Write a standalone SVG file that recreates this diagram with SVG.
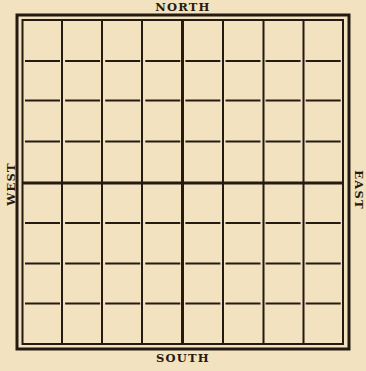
<svg xmlns="http://www.w3.org/2000/svg" width="366" height="371" viewBox="0 0 366 371">
<style>
.lbl{font-family:"DejaVu Serif","Liberation Serif",serif;font-weight:bold;font-size:11.5px;fill:#241a12;letter-spacing:1.2px}
.v{stroke:#241a12;stroke-width:2;fill:none}
.h{stroke:#241a12;stroke-width:2;fill:none;stroke-dasharray:35 5.1}
.c{stroke:#241a12;stroke-width:3;fill:none}
</style>
<rect x="0" y="0" width="366" height="371" fill="#f2e2c0"/>
<g id="border">
<rect x="17" y="15" width="332" height="334" fill="none" stroke="#241a12" stroke-width="3"/>
<rect x="22.5" y="20" width="320.5" height="324" fill="none" stroke="#241a12" stroke-width="2"/>
</g>
<g id="grid">
<line class="v" x1="62" y1="20" x2="62" y2="344"/>
<line class="v" x1="102" y1="20" x2="102" y2="344"/>
<line class="v" x1="142" y1="20" x2="142" y2="344"/>
<line class="c" x1="182.5" y1="20" x2="182.5" y2="344"/>
<line class="v" x1="223" y1="20" x2="223" y2="344"/>
<line class="v" x1="263.5" y1="20" x2="263.5" y2="344"/>
<line class="v" x1="303.5" y1="20" x2="303.5" y2="344"/>
<line class="h" x1="25" y1="61" x2="342" y2="61"/>
<line class="h" x1="25" y1="100.5" x2="342" y2="100.5"/>
<line class="h" x1="25" y1="141.5" x2="342" y2="141.5"/>
<line class="c" x1="22.5" y1="183" x2="343" y2="183"/>
<line class="h" x1="25" y1="223" x2="342" y2="223"/>
<line class="h" x1="25" y1="263.5" x2="342" y2="263.5"/>
<line class="h" x1="25" y1="303.5" x2="342" y2="303.5"/>
</g>
<g id="labels">
<text class="lbl" x="183" y="10.5" text-anchor="middle">NORTH</text>
<text class="lbl" x="183" y="362" text-anchor="middle">SOUTH</text>
<text class="lbl" transform="translate(15,184) rotate(-90)" text-anchor="middle">WEST</text>
<text class="lbl" transform="translate(354.5,190) rotate(90)" text-anchor="middle">EAST</text>
</g>
</svg>
